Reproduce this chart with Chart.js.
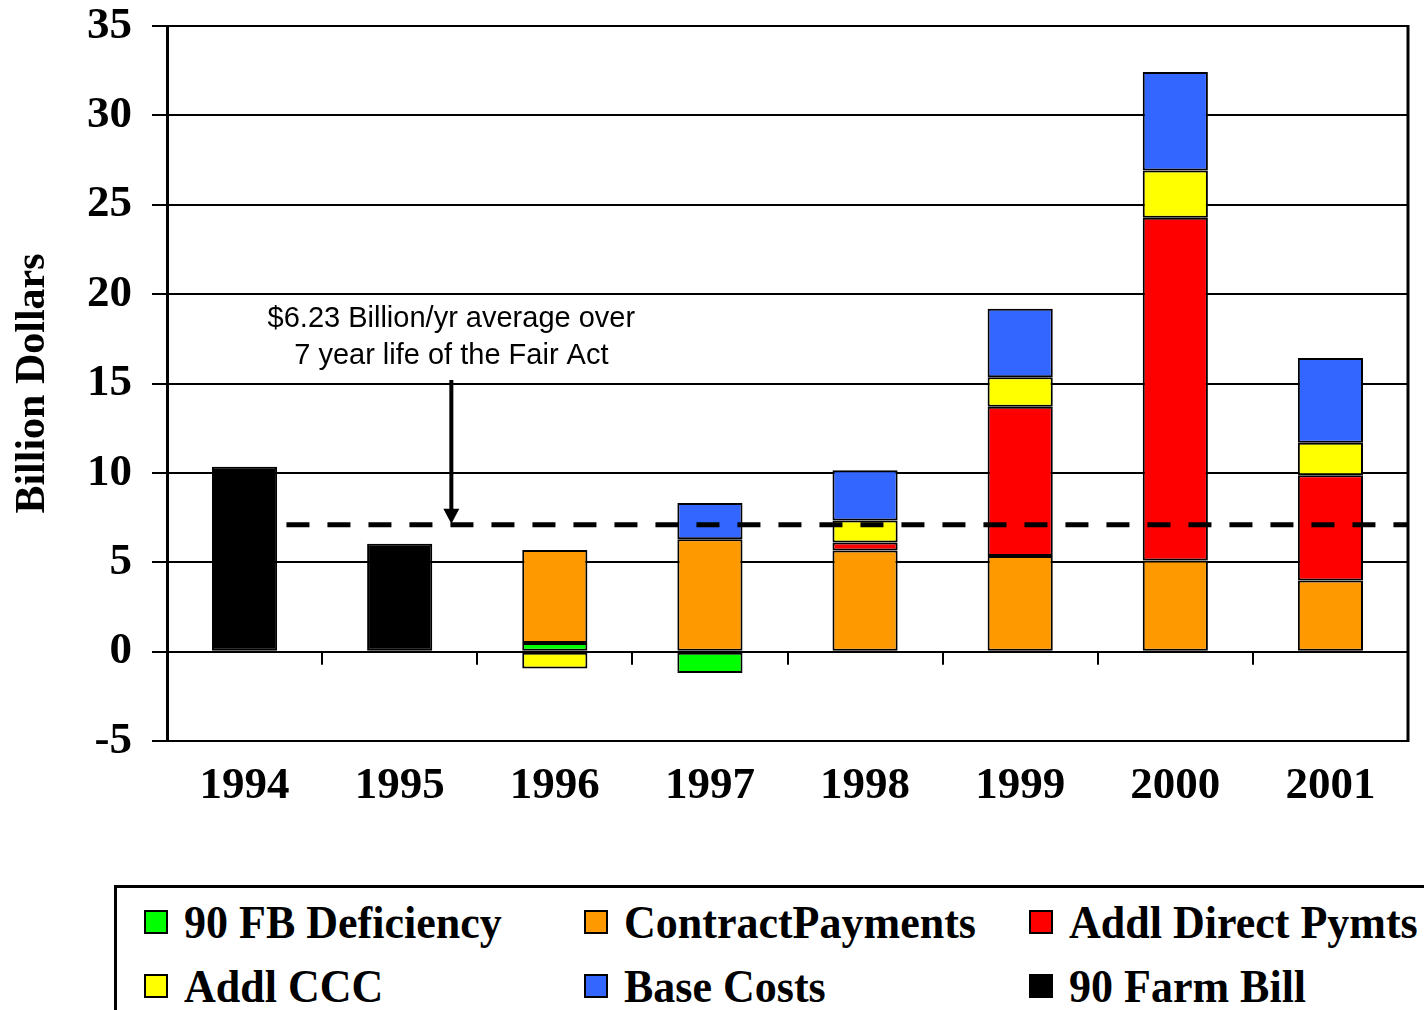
<!DOCTYPE html>
<html>
<head>
<meta charset="utf-8">
<script src="https://cdn.jsdelivr.net/npm/chart.js@4.4.1/dist/chart.umd.min.js"></script>
<style>
  html, body { margin: 0; padding: 0; background: #fff; overflow: hidden; }
  #wrap { position: relative; width: 1424px; height: 1010px; }
  #legend {
    position: absolute; left: 114px; top: 885px; width: 1340px; height: 160px;
    border: 3px solid #000; box-sizing: border-box; background: #fff;
    display: grid; grid-template-columns: 440px 445px auto; grid-auto-rows: 64px;
    padding: 2px 0 0 27px;
    font: bold 44px "Liberation Serif", "Times New Roman", serif; color: #000;
  }
  .item { display: flex; align-items: center; white-space: nowrap; }
  .box { width: 20px; height: 20px; border: 2px solid #000; margin-right: 16px; flex: none; }
  .lbl { display: inline-block; transform: scaleY(1.06); }
</style>
</head>
<body>
<div id="wrap">
  <canvas id="chart" width="1424" height="1010"></canvas>
  <div id="legend"></div>
</div>
<script>
/* data, billion dollars */
const years = ["1994", "1995", "1996", "1997", "1998", "1999", "2000", "2001"];
const fbDeficiency = [null, null, 0.48, -1.2, null, null, null, null];
const contractPayments = [null, null, 5.2, 6.28, 5.66, 5.35, 5.1, 3.98];
const addlDirectPymts = [null, null, null, null, 0.44, 8.35, 19.17, 5.89];
const addlCCC = [null, null, -0.95, null, 1.23, 1.65, 2.65, 1.81];
const baseCosts = [null, null, null, 2.04, 2.82, 3.83, 5.51, 4.74];
const farmBill90 = [10.34, 6.04, null, null, null, null, null, null];

const averageLine = 7.1;
const noteLines = ["$6.23 Billion/yr average over", "7 year life of the Fair Act"];

const serif = '"Liberation Serif", "Times New Roman", serif';

const series = [
  { label: "90 FB Deficiency", data: fbDeficiency, color: "#00ff00" },
  { label: "ContractPayments", data: contractPayments, color: "#ff9900" },
  { label: "Addl Direct Pymts", data: addlDirectPymts, color: "#ff0000" },
  { label: "Addl CCC", data: addlCCC, color: "#ffff00" },
  { label: "Base Costs", data: baseCosts, color: "#3366ff" },
  { label: "90 Farm Bill", data: farmBill90, color: "#000000" },
];

/* dashed average line, arrow, note, zero-line ticks, right border */
const extras = {
  id: "extras",
  afterDatasetsDraw(chart) {
    const { ctx, chartArea: a, scales: { x, y } } = chart;
    ctx.save();

    // right border
    ctx.strokeStyle = "#000";
    ctx.lineWidth = 3;
    ctx.beginPath();
    ctx.moveTo(a.right, a.top - 1);
    ctx.lineTo(a.right, a.bottom + 1);
    ctx.stroke();

    // category tick marks hanging under the zero line
    const y0 = y.getPixelForValue(0);
    ctx.lineWidth = 2;
    for (let i = 0; i < years.length - 1; i++) {
      const px = Math.round(x.getPixelForValue(i + 0.5));
      ctx.beginPath();
      ctx.moveTo(px, y0);
      ctx.lineTo(px, y0 + 13);
      ctx.stroke();
    }

    // average line
    const ya = y.getPixelForValue(averageLine);
    ctx.lineWidth = 5;
    ctx.setLineDash([23, 18]);
    ctx.beginPath();
    ctx.moveTo(x.getPixelForValue(0.27), ya);
    ctx.lineTo(a.right, ya);
    ctx.stroke();
    ctx.setLineDash([]);

    // arrow
    const ax = x.getPixelForValue(1.333);
    const atop = y.getPixelForValue(15.2);
    ctx.lineWidth = 4;
    ctx.beginPath();
    ctx.moveTo(ax, atop);
    ctx.lineTo(ax, ya - 14);
    ctx.stroke();
    ctx.fillStyle = "#000";
    ctx.beginPath();
    ctx.moveTo(ax - 8, ya - 16);
    ctx.lineTo(ax + 8, ya - 16);
    ctx.lineTo(ax, ya - 1);
    ctx.closePath();
    ctx.fill();

    // note
    ctx.font = '29px "Liberation Sans", Arial, sans-serif';
    ctx.textAlign = "center";
    ctx.textBaseline = "alphabetic";
    ctx.fillText(noteLines[0], ax, y.getPixelForValue(18.17));
    ctx.fillText(noteLines[1], ax, y.getPixelForValue(16.1));

    ctx.restore();
  },
};

new Chart(document.getElementById("chart"), {
  type: "bar",
  data: {
    labels: years,
    datasets: series.map((s) => ({
      label: s.label,
      data: s.data,
      backgroundColor: s.color,
      borderColor: "#000",
      borderWidth: 2,
      borderSkipped: false,
      barPercentage: 0.42,
      categoryPercentage: 1,
    })),
  },
  options: {
    responsive: false,
    animation: false,
    layout: { padding: { top: 26, right: 16, left: 0, bottom: 0 } },
    plugins: {
      legend: { display: false },
      tooltip: { enabled: false },
    },
    scales: {
      x: {
        stacked: true,
        grid: { display: false, drawTicks: false },
        border: { display: false },
        ticks: { color: "#000", font: { family: serif, size: 45, weight: "bold" }, padding: 18 },
        afterFit(scale) {
          scale.height = 269;
        },
      },
      y: {
        stacked: true,
        min: -5,
        max: 35,
        ticks: { stepSize: 5, color: "#000", font: { family: serif, size: 45, weight: "bold" }, padding: 20 },
        grid: { color: "#000", lineWidth: 2, tickLength: 15 },
        border: { color: "#000", width: 3 },
        title: {
          display: true,
          text: "Billion Dollars",
          color: "#000",
          font: { family: serif, size: 42, weight: "bold" },
          padding: { top: 8, bottom: 0 },
        },
        afterFit(scale) {
          scale.width = 167;
          scale.paddingTop = 0;
          scale.paddingBottom = 0;
        },
      },
    },
  },
  plugins: [extras],
});

/* legend as html, three columns */
const legend = document.getElementById("legend");
series.forEach((s) => {
  const item = document.createElement("div");
  item.className = "item";
  item.innerHTML = '<span class="box" style="background:' + s.color + '"></span><span class="lbl"></span>';
  item.querySelector(".lbl").textContent = s.label;
  legend.appendChild(item);
});
</script>
</body>
</html>
